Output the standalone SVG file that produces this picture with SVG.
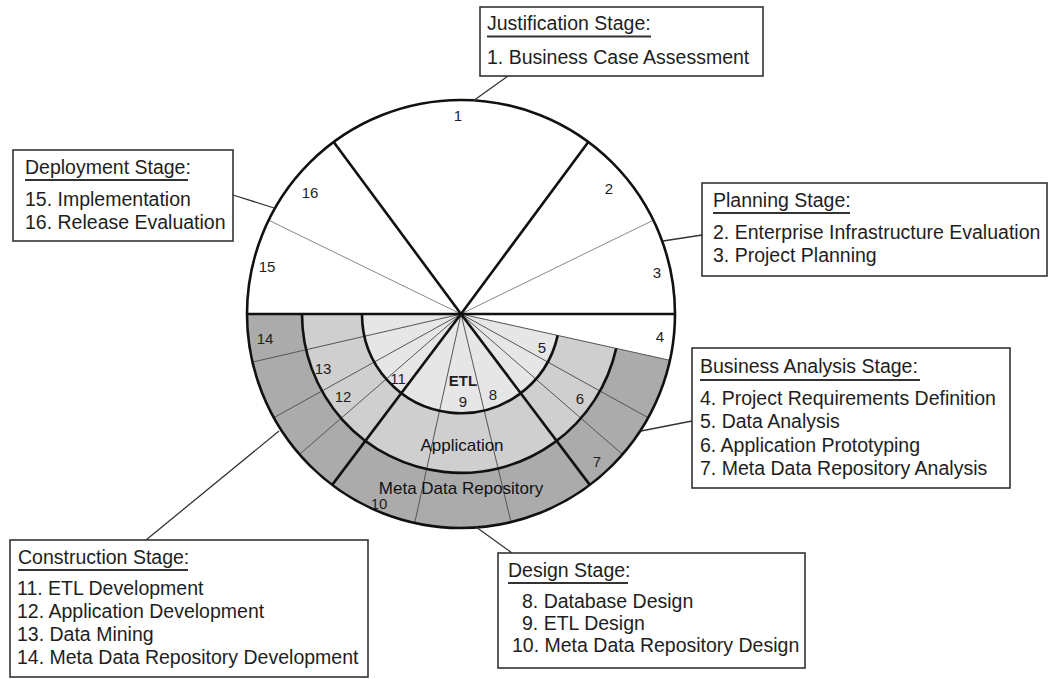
<svg xmlns="http://www.w3.org/2000/svg" width="1050" height="679" viewBox="0 0 1050 679">
<style>
.box{fill:#fff;stroke:#333;stroke-width:1.6}
.t{font-family:"Liberation Sans",Arial,sans-serif;font-size:19.5px;fill:#1e1e1e}
.ul{stroke:#333;stroke-width:1.8}
.num{font-family:"Liberation Sans",Arial,sans-serif;font-size:15px;fill:#1e1e1e;text-anchor:middle}
.lbl{font-family:"Liberation Sans",Arial,sans-serif;font-size:17px;fill:#111;text-anchor:middle}
.thick{stroke:#111;stroke-width:2.6;fill:none}
.thin{stroke:#555;stroke-width:1;fill:none}
.thin-light{stroke:#888;stroke-width:1;fill:none}
.conn{stroke:#333;stroke-width:1.3;fill:none}
</style>
<rect width="1050" height="679" fill="#fff"/>
<g id="wheel">
<circle cx="461" cy="314" r="214" fill="#fff"/>
<path d="M461,314 L669.9,360.3 A214,214 0 0 1 247,314 Z" fill="#ababab"/>
<path d="M461,314 L616.2,348.4 A159,159 0 0 1 302,314 Z" fill="#cfcfcf"/>
<path d="M461,314 L557.7,335.4 A99,99 0 0 1 362,314 Z" fill="#e6e6e6"/>
<g class="thin-light">
<line x1="461" y1="314" x2="653.3" y2="220.2"/>
<line x1="461" y1="314" x2="268.7" y2="220.2"/>
</g>
<g class="thin">
<line x1="461" y1="314" x2="669.9" y2="360.3"/>
<line x1="461" y1="314" x2="648.2" y2="417.7"/>
<line x1="461" y1="314" x2="622.5" y2="454.4"/>
<line x1="461" y1="314" x2="511.0" y2="522.1"/>
<line x1="461" y1="314" x2="414.7" y2="522.9"/>
<line x1="461" y1="314" x2="299.5" y2="454.4"/>
<line x1="461" y1="314" x2="273.8" y2="417.7"/>
<line x1="461" y1="314" x2="252.5" y2="362.1"/>
</g>
<g class="thick">
<line x1="461" y1="314" x2="588.3" y2="142.0"/>
<line x1="461" y1="314" x2="333.7" y2="142.0"/>
<line x1="461" y1="314" x2="589.8" y2="484.9"/>
<line x1="461" y1="314" x2="332.2" y2="484.9"/>
<line x1="247" y1="314" x2="675" y2="314"/>
<path d="M616.2,348.4 A159,159 0 0 1 302,314"/>
<path d="M557.7,335.4 A99,99 0 0 1 362,314"/>
<circle cx="461" cy="314" r="214"/>
</g>
<g id="wheel-labels">
<text class="num" x="458" y="121.3">1</text>
<text class="num" x="609" y="193.6">2</text>
<text class="num" x="657" y="278">3</text>
<text class="num" x="660" y="342">4</text>
<text class="num" x="542" y="352.6">5</text>
<text class="num" x="580" y="403.6">6</text>
<text class="num" x="597" y="467">7</text>
<text class="num" x="493" y="400.3">8</text>
<text class="num" x="463" y="407">9</text>
<text class="num" x="379" y="509">10</text>
<text class="num" x="398" y="383.6">11</text>
<text class="num" x="343" y="402">12</text>
<text class="num" x="323" y="373.6">13</text>
<text class="num" x="265" y="344.3">14</text>
<text class="num" x="267" y="272">15</text>
<text class="num" x="310" y="198">16</text>
<text class="num" x="463" y="385.5" font-weight="bold">ETL</text>
<text class="lbl" x="462" y="451">Application</text>
<text class="lbl" x="461" y="494">Meta Data Repository</text>
</g>
</g>
<g id="connectors" class="conn">
<line x1="473" y1="101" x2="508" y2="76"/>
<line x1="274" y1="208" x2="233" y2="195"/>
<line x1="663" y1="241" x2="702" y2="235"/>
<line x1="641" y1="431" x2="692" y2="421"/>
<line x1="476" y1="527" x2="512" y2="553"/>
<line x1="279" y1="431" x2="146" y2="540"/>
</g>
<g id="justification">
<rect class="box" x="480" y="7" width="283" height="69"/>
<text class="t" x="487" y="30">Justification Stage:</text>
<line class="ul" x1="487" y1="36.5" x2="651" y2="36.5"/>
<text class="t" x="487" y="64">1. Business Case Assessment</text>
</g>
<g id="deployment">
<rect class="box" x="13" y="150" width="220" height="91"/>
<text class="t" x="25" y="174">Deployment Stage:</text>
<line class="ul" x1="25" y1="180" x2="188" y2="180"/>
<text class="t" x="25" y="206">15. Implementation</text>
<text class="t" x="25" y="229">16. Release Evaluation</text>
</g>
<g id="planning">
<rect class="box" x="702" y="183" width="345" height="93"/>
<text class="t" x="713" y="207">Planning Stage:</text>
<line class="ul" x1="713" y1="213" x2="850" y2="213"/>
<text class="t" x="713" y="239">2. Enterprise Infrastructure Evaluation</text>
<text class="t" x="713" y="262">3. Project Planning</text>
</g>
<g id="business-analysis">
<rect class="box" x="692" y="348" width="318" height="140"/>
<text class="t" x="700" y="373">Business Analysis Stage:</text>
<line class="ul" x1="700" y1="380" x2="920" y2="380"/>
<text class="t" x="700" y="405">4. Project Requirements Definition</text>
<text class="t" x="700" y="428">5. Data Analysis</text>
<text class="t" x="700" y="452">6. Application Prototyping</text>
<text class="t" x="700" y="475">7. Meta Data Repository Analysis</text>
</g>
<g id="design">
<rect class="box" x="498" y="553" width="307" height="115"/>
<text class="t" x="508" y="577">Design Stage:</text>
<line class="ul" x1="508" y1="583" x2="628" y2="583"/>
<text class="t" x="522" y="608">8. Database Design</text>
<text class="t" x="522" y="630">9. ETL Design</text>
<text class="t" x="512" y="652">10. Meta Data Repository Design</text>
</g>
<g id="construction">
<rect class="box" x="10" y="540" width="358" height="137"/>
<text class="t" x="18" y="564">Construction Stage:</text>
<line class="ul" x1="18" y1="570" x2="188" y2="570"/>
<text class="t" x="17" y="595">11. ETL Development</text>
<text class="t" x="17" y="618">12. Application Development</text>
<text class="t" x="17" y="641">13. Data Mining</text>
<text class="t" x="17" y="664">14. Meta Data Repository Development</text>
</g>
</svg>
